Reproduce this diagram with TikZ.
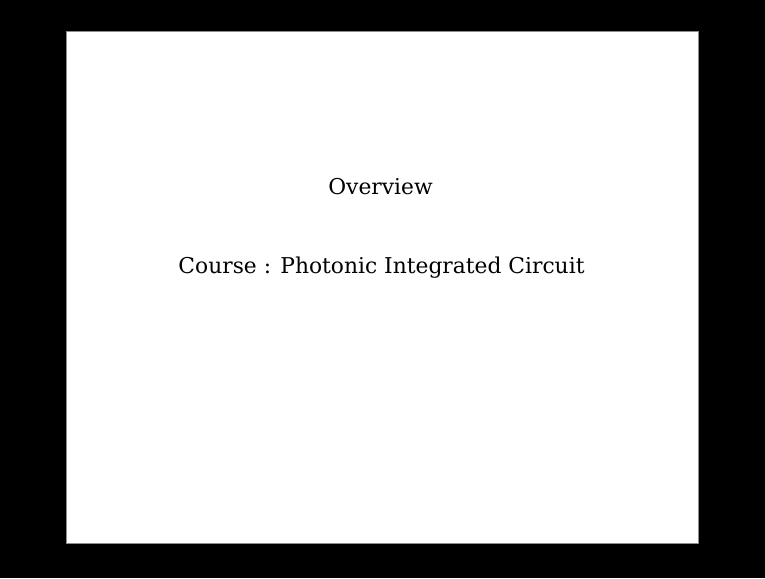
\documentclass[tikz,border=0pt]{standalone}
\usepackage{fontspec}
\setmainfont{DejaVu Serif}
\begin{document}
\begin{tikzpicture}[x=1pt,y=-1pt,
  slide/.style={fill=white,draw=black!45,line width=0.8pt},
  title/.style={font=\fontsize{21.8}{26}\selectfont,anchor=base,inner sep=0pt}]
  % black screen
  \fill[black] (0,0) rectangle (765,578);
  \useasboundingbox (0,0) rectangle (765,578);
  % white slide
  \draw[slide] (66,31.5) rectangle (698,543.5);
  % slide text
  \node[title] (head) at (380.5,194.5) {Overview};
  \node[title] (course) at (381.5,273.5) {Course : Photonic Integrated Circuit};
\end{tikzpicture}
\end{document}
